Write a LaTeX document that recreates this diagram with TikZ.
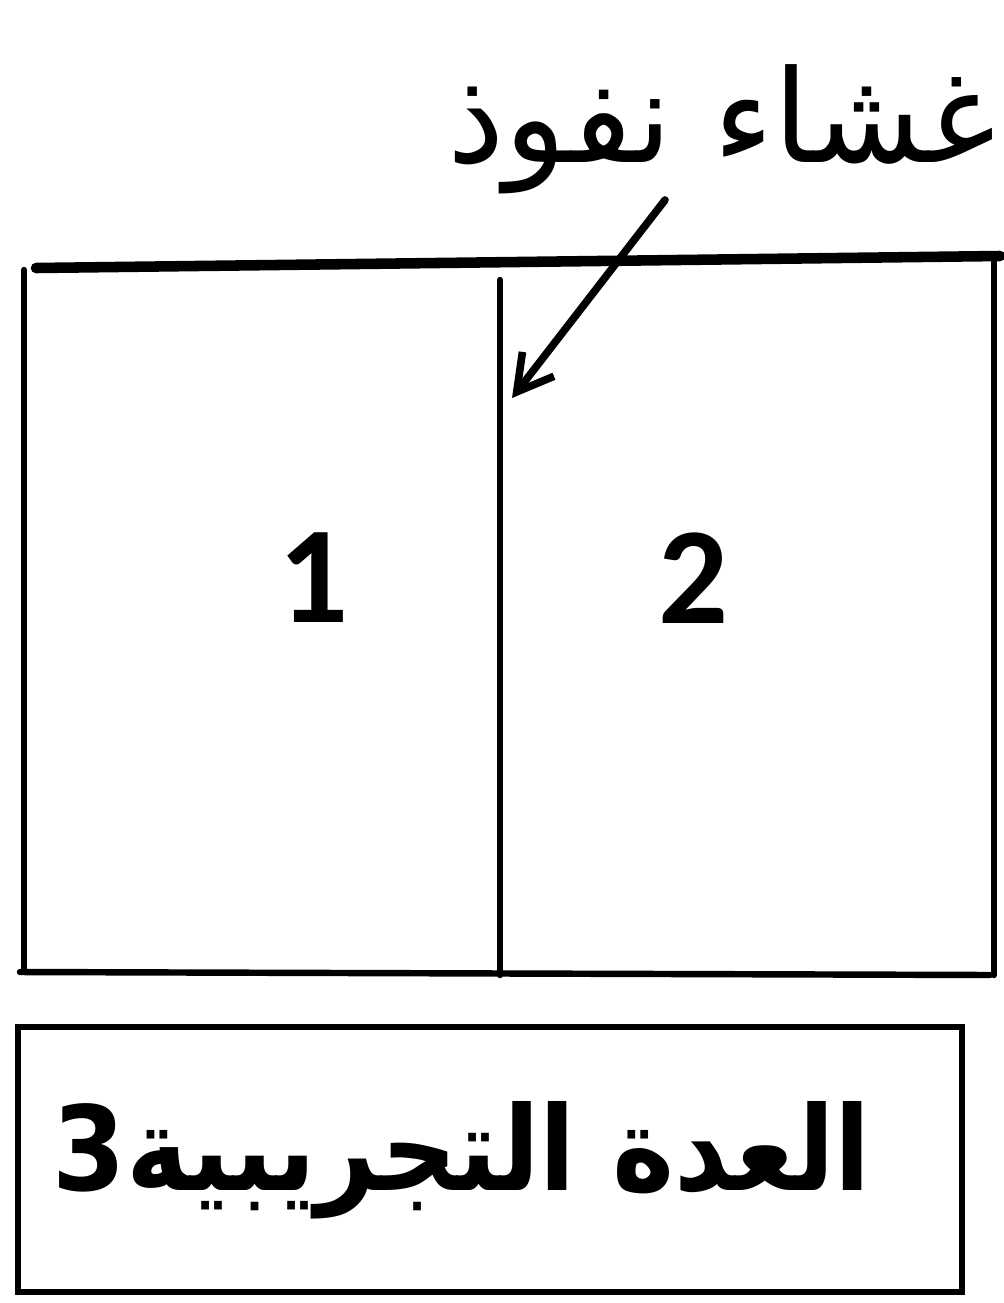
\documentclass[tikz,border=0pt]{standalone}
\usepackage{fontspec}
\TeXXeTstate=1
\newfontfamily\arabicfont[Script=Arabic]{DejaVu Sans}
\newfontfamily\numfont{Carlito}
\usetikzlibrary{arrows.meta}
\begin{document}
\begin{tikzpicture}[x=0.03cm,y=-0.03cm,
  wall/.style={line width=5.5pt,line cap=round},
  thickwall/.style={line width=9pt,line cap=round},
  numlabel/.style={font=\numfont\bfseries\fontsize{118}{118}\selectfont,inner sep=0pt},
  pointer/.style={line width=6.5pt,line cap=round,-{Straight Barb[length=30pt,width=34pt,line width=6.5pt]}}]
\useasboundingbox (0,0) rectangle (1004,1303);
% container
\draw[thickwall] (36,268) -- (1000,256);
\draw[wall] (24,270) -- (24,970);
\draw[wall] (20,972) -- (990,975);
\draw[wall] (994,262) -- (994,975);
\draw[wall] (500,280) -- (500,975);
% labels 1 and 2
\node[numlabel] (one) at (314,578) {1};
\node[numlabel] (two) at (694,578) {2};
% membrane label
\node[font=\arabicfont\fontsize{110}{110}\selectfont,inner sep=0pt,anchor=base east] (mem) at (996,162) {\beginR غشاء نفوذ\endR};
\coordinate (astart) at (665,200);
\coordinate (aend) at (512,398);
\draw[pointer] (astart) -- (aend);
% caption box
\draw[wall] (18,1027) rectangle (962,1292);
\node[font=\arabicfont\bfseries\fontsize{100}{100}\selectfont,inner sep=0pt,xscale=0.9] (cap) at (462,1160) {3\beginR العدة التجريبية\endR};
\end{tikzpicture}
\end{document}
